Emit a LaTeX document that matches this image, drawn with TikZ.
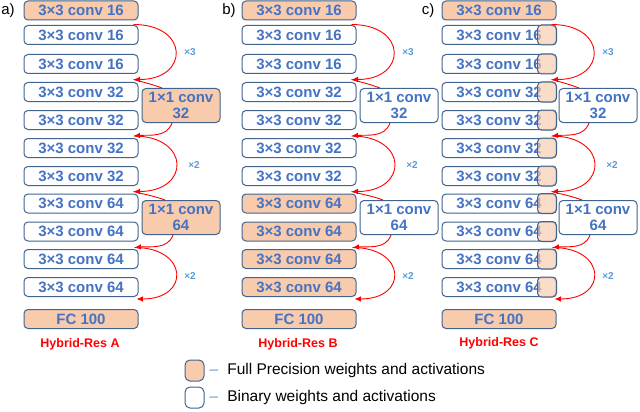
\documentclass[tikz,border=0pt]{standalone}
\usepackage{fontspec}
\setmainfont{Liberation Sans}
\usetikzlibrary{%
    arrows.meta,
    positioning
}
\definecolor{peach}{HTML}{F8CBAD}
\definecolor{edgeblue}{HTML}{41648F}
\definecolor{txtblue}{HTML}{4472C4}
\definecolor{timesblue}{HTML}{5B9BD5}
\tikzset{
    layer/.style = {draw=edgeblue, line width=1pt, rounded corners=4pt, fill=white,
        text=txtblue, font=\fontsize{15}{16}\selectfont\bfseries,
        minimum width=114pt, minimum height=19pt, inner sep=0pt},
    fp/.style = {layer, fill=peach},
    proj/.style = {minimum width=78pt, minimum height=34pt, align=center},
    halfcap/.style = {draw=edgeblue, line width=1pt, rounded corners=4pt,
        fill=peach, fill opacity=0.65},
    skiparrow/.style = {red, line width=0.9pt, -{Latex[length=6.5pt,width=5.5pt]}},
    skipline/.style = {red, line width=0.9pt},
    times/.style = {text=timesblue, font=\fontsize{10}{11}\selectfont\bfseries},
    netname/.style = {text=red, font=\fontsize{12.5}{14}\selectfont\bfseries},
    tag/.style = {font=\fontsize{15}{17}\selectfont}
}

\begin{document}
\begin{tikzpicture}[x=1pt,y=1pt]
    \useasboundingbox (0,0) rectangle (640,-412);

    % a)
    \node[tag] (taga) at (8,-11) {a)};
    \node[fp] (a0) at (81,-10.5) {3×3 conv 16};
    \foreach \i/\y/\n in {1/35/16,2/64/16,3/92/32,4/120/32,5/148/32,6/176/32,7/203.5/64,8/231.5/64,9/259/64,10/287/64}
        \node[layer] (a\i) at (81,-\y) {3×3 conv \n};
    \node[fp] (a fc) at (81,-319) {FC 100};
    \node[fp,proj] (ap1) at (181,-105.5) {1×1 conv\\32};
    \node[fp,proj] (ap2) at (181,-217.5) {1×1 conv\\64};
    \node[netname] (aname) at (80,-344) {Hybrid-Res A};

    % b)
    \node[tag] (tagb) at (229,-11) {b)};
    \node[fp] (b0) at (299,-10.5) {3×3 conv 16};
    \foreach \i/\y/\n in {1/35/16,2/64/16,3/92/32,4/120/32,5/148/32,6/176/32}
        \node[layer] (b\i) at (299,-\y) {3×3 conv \n};
    \foreach \i/\y in {7/203.5,8/231.5,9/259,10/287}
        \node[fp] (b\i) at (299,-\y) {3×3 conv 64};
    \node[fp] (b fc) at (299,-319) {FC 100};
    \node[layer,proj] (bp1) at (399,-105.5) {1×1 conv\\32};
    \node[layer,proj] (bp2) at (399,-217.5) {1×1 conv\\64};
    \node[netname] (bname) at (298,-344) {Hybrid-Res B};

    % c)
    \node[tag] (tagc) at (428,-11) {c)};
    \node[fp] (c0) at (499,-10.5) {3×3 conv 16};
    \foreach \i/\y/\n in {1/35/16,2/64/16,3/92/32,4/120/32,5/148/32,6/176/32,7/203.5/64,8/231.5/64,9/259/64,10/287/64} {
        \node[layer] (c\i) at (499,-\y) {3×3 conv \n};
        \draw[halfcap] ([xshift=-19pt]c\i.north east) rectangle (c\i.south east);
    }
    \node[fp] (c fc) at (499,-319) {FC 100};
    \node[layer,proj] (cp1) at (598,-105.5) {1×1 conv\\32};
    \node[layer,proj] (cp2) at (598,-217.5) {1×1 conv\\64};
    \node[netname] (cname) at (499,-343) {Hybrid-Res C};

    % shortcuts
    \foreach \col/\dx in {a/0,b/218,c/418} {
        \coordinate (\col-s) at ([xshift=-5pt,yshift=-4pt]\col0.south east);
        \coordinate (\col-t1) at ([xshift=-5pt,yshift=2.5pt]\col3.north east);
        \coordinate (\col-t2) at ([xshift=-5pt,yshift=2pt]\col5.north east);
        \coordinate (\col-t3) at ([xshift=-5pt,yshift=2pt]\col7.north east);
        \coordinate (\col-t4) at ([xshift=-4pt,yshift=1.5pt]\col9.north east);
        \coordinate (\col-t5) at ([xshift=-2pt,yshift=-2pt]\col10.south east);

        \draw[skiparrow] (\col-s) .. controls +(56,0) and +(56,0) .. (\col-t1);
        \draw[skipline] ([xshift=-19pt]\col p1.north) to[out=160,in=-15] (\col-t1);
        \draw[skiparrow] ([xshift=-9pt]\col p1.south) to[out=-110,in=5] (\col-t2);
        \draw[skiparrow] (\col-t2) .. controls +(57,0) and +(57,0) .. (\col-t3);
        \draw[skipline] ([xshift=-16pt]\col p2.north) to[out=160,in=-15] (\col-t3);
        \draw[skiparrow] ([xshift=-8pt]\col p2.south) to[out=-110,in=5] (\col-t4);
        \draw[skiparrow] (\col-t4) .. controls +(54,0) and +(54,0) .. (\col-t5);

        \node[times] (\col x1) at (190+\dx,-52) {×3};
        \node[times] (\col x2) at (194+\dx,-165) {×2};
        \node[times] (\col x3) at (190+\dx,-276) {×2};
    }

    % legend
    \node[fp, minimum width=19pt, minimum height=21pt, rounded corners=5pt] (fpkey) at (194.5,-370.5) {};
    \node[inner sep=0pt, font=\fontsize{15.5}{17}\selectfont] (fptext) [right=5pt of fpkey]
        {\textcolor{timesblue}{–}\hspace{9pt}Full Precision weights and activations};
    \node[layer, minimum width=19pt, minimum height=21pt, rounded corners=5pt] (binkey) [below=5pt of fpkey] {};
    \node[inner sep=0pt, font=\fontsize{15.5}{17}\selectfont] (bintext) [right=5pt of binkey]
        {\textcolor{timesblue}{–}\hspace{9pt}Binary weights and activations};
\end{tikzpicture}
\end{document}
